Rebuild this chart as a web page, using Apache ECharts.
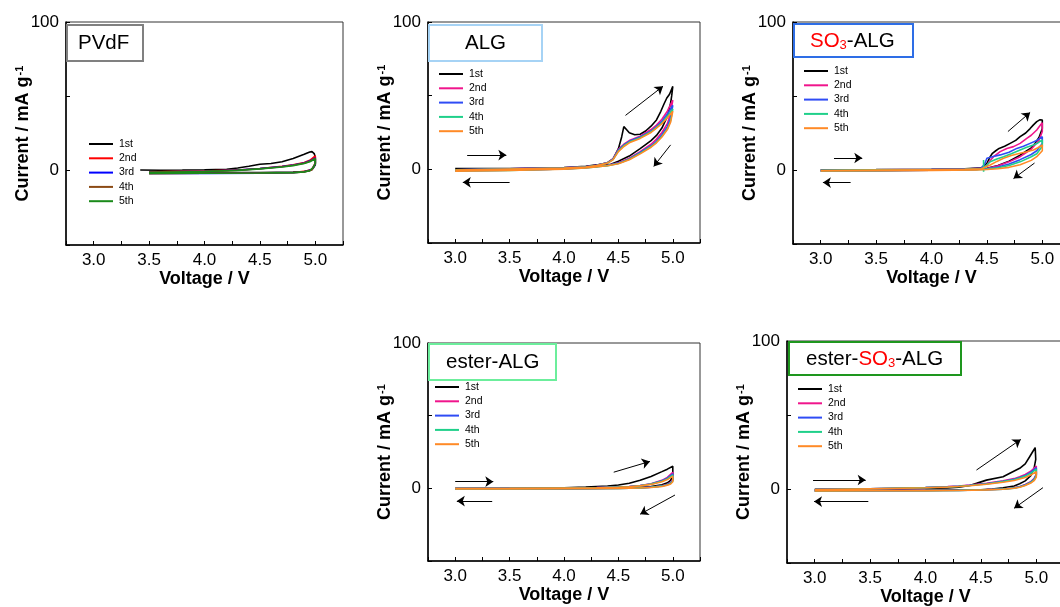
<!DOCTYPE html>
<html><head><meta charset="utf-8">
<script src="https://cdn.jsdelivr.net/npm/echarts@6/dist/echarts.min.js"></script>
<style>html,body{margin:0;padding:0;background:#fff}#c{width:1060px;height:607px}</style>
</head><body><div id="c"></div>
<script>
// ---------- DATA (Voltage / V, Current / mA g-1) ----------
const cycleLabels = ['1st', '2nd', '3rd', '4th', '5th'];
const xTickLabels = ['3.0', '3.5', '4.0', '4.5', '5.0'];
const yTickLabels = ['0', '100'];

// PVdF
const pvdf1 = [[3.42,0.4],[3.6,0.3],[3.8,0.4],[4.0,0.6],[4.2,1.0],[4.3,1.8],[4.4,3.0],[4.5,4.3],[4.6,4.8],[4.7,6.0],[4.8,8.2],[4.9,11],[4.95,12.6],[4.97,12.8],[4.99,11.5],[5.0,9],[5.0,4],[4.98,1.5],[4.95,0],[4.9,-0.6],[4.8,-1.0],[4.5,-1.2],[4.0,-1.3],[3.5,-1.4]];
const pvdf2 = [[3.5,-0.8],[4.0,-0.3],[4.3,0.5],[4.5,1.5],[4.7,3.0],[4.8,4.0],[4.9,5.5],[4.95,7.0],[5.0,10],[5.0,5],[4.97,1],[4.9,-0.5],[4.8,-1.2],[4.5,-1.6],[4.0,-1.7],[3.5,-1.8]];
const pvdf3 = [[3.5,-0.9],[4.0,-0.4],[4.3,0.4],[4.5,1.4],[4.7,2.8],[4.8,3.8],[4.9,5.2],[4.95,6.6],[5.0,8.5],[5.0,4.5],[4.97,0.8],[4.9,-0.7],[4.8,-1.3],[4.5,-1.7],[4.0,-1.8],[3.5,-1.9]];
const pvdf4 = [[3.5,-1.0],[4.0,-0.5],[4.3,0.3],[4.5,1.3],[4.7,2.6],[4.8,3.6],[4.9,5.0],[4.95,6.3],[5.0,8.2],[5.0,4.8],[4.97,0.5],[4.9,-0.8],[4.8,-1.3],[4.5,-1.6],[4.0,-1.7],[3.5,-1.8]];
const pvdf5 = [[3.5,-1.2],[4.0,-0.6],[4.3,0.2],[4.5,1.2],[4.7,2.5],[4.8,3.4],[4.9,4.8],[4.95,6.0],[5.0,8.0],[5.0,5.0],[4.98,2.0],[4.95,0],[4.9,-0.8],[4.8,-1.3],[4.5,-1.6],[4.0,-1.7],[3.5,-1.8]];

// ALG
const alg1 = [[3.0,0.5],[3.5,0.6],[4.0,1.2],[4.2,2.0],[4.3,3.0],[4.4,4.5],[4.45,7],[4.5,14],[4.53,22],[4.55,29],[4.58,26.5],[4.6,24.8],[4.65,23.5],[4.7,23.8],[4.75,26],[4.8,29.3],[4.85,33.5],[4.89,39.4],[4.92,44.5],[4.945,48.4],[4.97,51],[5.0,56.3],[4.99,50],[4.98,45],[4.95,36],[4.9,28],[4.85,23],[4.8,19.5],[4.7,14],[4.6,9],[4.5,5.5],[4.43,3.5],[4.3,2],[4.0,0.5],[3.5,-0.3],[3.0,-0.6]];
const alg2 = [[3.0,-0.3],[3.5,0.3],[4.0,1.0],[4.2,1.8],[4.3,2.8],[4.4,4.5],[4.45,7],[4.5,13.5],[4.55,17],[4.6,19.5],[4.7,22.5],[4.8,27],[4.85,30],[4.9,34],[4.95,39.5],[5.0,47],[4.98,38],[4.95,31],[4.9,25],[4.85,20.5],[4.8,17],[4.7,12],[4.6,7.5],[4.5,4.5],[4.4,2.8],[4.2,1.2],[4.0,0.3],[3.5,-0.6],[3.0,-1.0]];
const alg3 = [[3.0,-0.3],[3.5,0.3],[4.0,1.0],[4.2,1.7],[4.3,2.7],[4.4,4.4],[4.45,6.8],[4.5,13],[4.55,16.5],[4.6,19],[4.7,22],[4.8,26],[4.85,29],[4.9,32.5],[4.95,37.5],[5.0,43.5],[4.98,35],[4.95,29],[4.9,23.5],[4.85,19],[4.8,16],[4.7,11.5],[4.6,7],[4.5,4.2],[4.4,2.6],[4.2,1.1],[4.0,0.2],[3.5,-0.6],[3.0,-1.0]];
const alg4 = [[3.0,-0.4],[3.5,0.2],[4.0,0.9],[4.2,1.6],[4.3,2.6],[4.4,4.3],[4.45,6.6],[4.5,12.5],[4.55,16],[4.6,18.5],[4.7,21.5],[4.8,25.5],[4.85,28.5],[4.9,31.5],[4.95,36],[5.0,41],[4.98,33],[4.95,27.5],[4.9,22.5],[4.85,18.5],[4.8,15.5],[4.7,11],[4.6,6.8],[4.5,4],[4.4,2.5],[4.2,1.0],[4.0,0.2],[3.5,-0.7],[3.0,-1.1]];
const alg5 = [[3.0,-0.5],[3.5,0.2],[4.0,0.9],[4.2,1.6],[4.3,2.5],[4.4,4.2],[4.45,6.4],[4.5,12],[4.55,15.5],[4.6,18],[4.7,21],[4.8,25],[4.85,28],[4.9,31],[4.95,35],[5.0,39.5],[4.98,32],[4.95,27],[4.9,22],[4.85,18],[4.8,15],[4.7,10.5],[4.6,6.5],[4.5,3.8],[4.4,2.4],[4.2,1.0],[4.0,0.1],[3.5,-0.7],[3.0,-1.2]];

// SO3-ALG
const so3alg1 = [[3.0,0.2],[3.5,0.3],[4.0,0.5],[4.3,0.8],[4.45,1.5],[4.5,4.5],[4.53,9],[4.55,11.3],[4.58,13],[4.61,14.6],[4.66,16],[4.71,18],[4.76,20],[4.8,22.5],[4.85,25],[4.89,28],[4.92,30.5],[4.95,32.7],[4.98,34],[5.0,33.8],[5.0,28],[4.97,22],[4.93,17.5],[4.9,15],[4.85,12.5],[4.8,10],[4.7,6],[4.6,3],[4.5,1.2],[4.4,0.5],[4.0,0],[3.5,-0.3],[3.0,-0.5]];
const so3alg2 = [[3.0,-0.2],[3.5,0.1],[4.0,0.4],[4.3,0.7],[4.45,1.2],[4.5,3],[4.52,5.6],[4.56,9],[4.62,12.4],[4.68,14.5],[4.74,15.8],[4.8,18],[4.86,21.4],[4.9,23.5],[4.95,27],[4.98,30],[5.0,32],[5.0,26],[4.97,20],[4.9,14],[4.8,9],[4.7,5.5],[4.6,2.8],[4.5,1],[4.4,0.4],[4.0,-0.1],[3.5,-0.4],[3.0,-0.6]];
const so3alg3 = [[3.0,-0.2],[3.5,0.1],[4.0,0.3],[4.3,0.6],[4.45,1.2],[4.48,4],[4.5,7.9],[4.55,9],[4.62,10.2],[4.7,12],[4.77,14.6],[4.83,16],[4.89,18],[4.95,20],[5.0,22.5],[5.0,18],[4.95,13],[4.9,10.5],[4.8,7],[4.7,4],[4.6,2],[4.5,0.8],[4.4,0.3],[4.0,-0.2],[3.5,-0.4],[3.0,-0.6]];
const so3alg4 = [[3.0,-0.2],[3.5,0.1],[4.0,0.3],[4.3,0.5],[4.44,0.8],[4.47,1.2],[4.47,6.8],[4.47,-1.1],[4.475,1.5],[4.53,5.6],[4.59,7.5],[4.65,9],[4.72,11],[4.8,13.5],[4.86,15.3],[4.92,16.9],[4.96,18.3],[5.0,20.3],[5.0,16],[4.95,11],[4.9,9],[4.8,5.5],[4.7,3],[4.6,1.5],[4.5,0.6],[4.4,0.2],[4.0,-0.2],[3.5,-0.4],[3.0,-0.6]];
const so3alg5 = [[3.0,-0.3],[3.5,0],[4.0,0.2],[4.3,0.4],[4.45,0.8],[4.53,3.4],[4.59,5.8],[4.65,7.9],[4.72,9.8],[4.8,11.3],[4.86,12.3],[4.92,13.5],[4.96,15],[5.0,16.9],[5.0,13],[4.95,9],[4.9,6.5],[4.8,3.5],[4.7,1.8],[4.6,0.8],[4.5,0.3],[4.4,0],[4.0,-0.3],[3.5,-0.5],[3.0,-0.7]];

// ester-ALG
const esterAlg1 = [[3.0,0],[3.5,0.1],[4.0,0.4],[4.2,0.8],[4.3,1.2],[4.4,1.6],[4.5,2.3],[4.6,3.5],[4.7,5.5],[4.8,8.2],[4.9,11.5],[4.95,13.2],[5.0,15.2],[5.0,9],[4.98,5.5],[4.95,3.8],[4.9,2.5],[4.8,1.2],[4.7,0.7],[4.6,0.4],[4.4,0.1],[4.0,-0.2],[3.5,-0.3],[3.0,-0.3]];
const esterAlg2 = [[3.0,-0.1],[3.5,0],[4.0,0.2],[4.3,0.5],[4.5,0.9],[4.6,1.3],[4.7,2.0],[4.8,3.2],[4.9,5.5],[4.95,7.5],[5.0,11],[5.0,6],[4.98,4],[4.95,2.8],[4.9,1.7],[4.8,0.8],[4.7,0.4],[4.5,0.1],[4.0,-0.3],[3.5,-0.4],[3.0,-0.4]];
const esterAlg3 = [[3.0,-0.1],[3.5,0],[4.0,0.2],[4.3,0.5],[4.5,0.8],[4.6,1.2],[4.7,1.9],[4.8,3.0],[4.9,5.2],[4.95,7.0],[5.0,10],[5.0,5.5],[4.98,3.7],[4.95,2.6],[4.9,1.6],[4.8,0.7],[4.7,0.3],[4.5,0],[4.0,-0.3],[3.5,-0.4],[3.0,-0.4]];
const esterAlg4 = [[3.0,-0.1],[3.5,0],[4.0,0.2],[4.3,0.4],[4.5,0.8],[4.6,1.1],[4.7,1.8],[4.8,2.9],[4.9,4.9],[4.95,6.5],[5.0,9.2],[5.0,5],[4.98,3.4],[4.95,2.4],[4.9,1.5],[4.8,0.7],[4.7,0.3],[4.5,0],[4.0,-0.3],[3.5,-0.4],[3.0,-0.4]];
const esterAlg5 = [[3.0,-0.1],[3.5,0],[4.0,0.2],[4.3,0.4],[4.5,0.7],[4.6,1.0],[4.7,1.7],[4.8,2.7],[4.9,4.5],[4.95,6.0],[5.0,8.3],[5.0,4.5],[4.98,3],[4.95,2.2],[4.9,1.3],[4.8,0.6],[4.7,0.2],[4.5,0],[4.0,-0.3],[3.5,-0.4],[3.0,-0.4]];

// ester-SO3-ALG
const esterSo3Alg1 = [[3.0,-0.2],[3.5,0],[4.0,0.3],[4.2,0.7],[4.3,1.2],[4.4,2.4],[4.46,3.8],[4.55,6],[4.7,8.3],[4.77,11],[4.85,14],[4.9,17],[4.94,21.8],[4.97,25.5],[4.99,28],[5.0,27],[4.995,20],[4.98,14],[4.95,9],[4.9,5.5],[4.85,3.5],[4.8,2],[4.7,0.8],[4.6,0],[4.5,-0.5],[4.0,-0.9],[3.5,-1.0],[3.0,-1.1]];
const esterSo3Alg2 = [[3.0,-0.5],[3.5,0.2],[4.0,1.0],[4.2,1.6],[4.3,2.0],[4.4,2.6],[4.55,3.8],[4.7,5.5],[4.8,7],[4.85,8.3],[4.9,9.8],[4.95,12],[5.0,15.5],[5.0,10],[4.98,7],[4.95,5],[4.9,3],[4.85,1.6],[4.8,0.8],[4.7,0],[4.55,-0.4],[4.3,-0.8],[4.0,-1.0],[3.5,-1.1],[3.0,-1.2]];
const esterSo3Alg3 = [[3.0,-0.5],[3.5,0.2],[4.0,0.9],[4.2,1.5],[4.3,1.9],[4.4,2.5],[4.55,3.6],[4.7,5.2],[4.8,6.6],[4.85,7.8],[4.9,9.2],[4.95,11.3],[5.0,14.4],[5.0,9.5],[4.98,6.6],[4.95,4.7],[4.9,2.8],[4.85,1.5],[4.8,0.7],[4.7,-0.1],[4.55,-0.5],[4.3,-0.9],[4.0,-1.0],[3.5,-1.1],[3.0,-1.2]];
const esterSo3Alg4 = [[3.0,-0.5],[3.5,0.2],[4.0,0.9],[4.2,1.4],[4.3,1.8],[4.4,2.4],[4.55,3.4],[4.7,5.0],[4.8,6.3],[4.85,7.4],[4.9,8.7],[4.95,10.6],[5.0,13.5],[5.0,9],[4.98,6.2],[4.95,4.4],[4.9,2.6],[4.85,1.4],[4.8,0.6],[4.7,-0.1],[4.55,-0.5],[4.3,-0.9],[4.0,-1.1],[3.5,-1.2],[3.0,-1.3]];
const esterSo3Alg5 = [[3.0,-0.6],[3.5,0.1],[4.0,0.8],[4.2,1.3],[4.3,1.7],[4.4,2.2],[4.55,3.2],[4.7,4.6],[4.8,5.8],[4.85,6.7],[4.9,7.8],[4.95,9.4],[5.0,11.7],[5.0,8],[4.98,5.6],[4.95,4.0],[4.9,2.3],[4.85,1.2],[4.8,0.5],[4.7,-0.2],[4.55,-0.6],[4.3,-1.0],[4.0,-1.1],[3.5,-1.2],[3.0,-1.3]];

// Arrow annotations (start/end in data units)
const algArrows = [[[3.11,9.7],[3.47,9.7]],[[3.5,-8.8],[3.07,-8.8]],[[4.565,36.6],[4.91,56.4]],[[4.98,16.6],[4.825,2]]];
const so3algArrows = [[[3.12,8.1],[3.375,8.1]],[[3.27,-8.5],[3.02,-8.5]],[[4.69,26],[4.89,38.9]],[[4.93,4.7],[4.74,-5.8]]];
const esterAlgArrows = [[[3.0,4.6],[3.35,4.6]],[[3.34,-8.8],[3.015,-8.8]],[[4.457,11.1],[4.79,18.5]],[[5.02,-4.6],[4.70,-17.8]]];
const esterSo3AlgArrows = [[[2.985,6.1],[3.46,6.1]],[[3.484,-8.5],[2.994,-8.5]],[[4.46,12.8],[4.86,33.5]],[[5.06,0.9],[4.8,-13]]];

// ---------- LAYOUT / STYLE ----------
const pvdfColors = ['#000000', '#ff0000', '#0000ff', '#8b4a14', '#1a8a1a'];
const algColors = ['#000000', '#f0158c', '#2f4cf5', '#1fd08a', '#ff8a26'];

const panels = [
  {key: 'PVdF', data: [pvdf1, pvdf2, pvdf3, pvdf4, pvdf5], colors: pvdfColors, arrows: [],
   grid: {left: 66, top: 22, width: 277, height: 223}, legend: {left: 89, top: 138},
   title: {text: 'PVdF', left: 67, top: 25, border: '#808080', padding: [7, 14, 7, 11]}},
  {key: 'ALG', data: [alg1, alg2, alg3, alg4, alg5], colors: algColors, arrows: algArrows,
   grid: {left: 428, top: 22, width: 272, height: 221}, legend: {left: 439, top: 68},
   title: {text: 'ALG', left: 429, top: 25, border: '#a6d3f5', padding: [7, 36, 7, 36]}},
  {key: 'SO3-ALG', data: [so3alg1, so3alg2, so3alg3, so3alg4, so3alg5], colors: algColors, arrows: so3algArrows,
   grid: {left: 793, top: 22, width: 277, height: 222}, legend: {left: 804, top: 65},
   title: {text: '{r|SO}{rs|3}{k|-ALG}', left: 794, top: 26, border: '#2e6ee6', padding: [4, 19, 5, 16]}},
  {key: 'ester-ALG', data: [esterAlg1, esterAlg2, esterAlg3, esterAlg4, esterAlg5], colors: algColors, arrows: esterAlgArrows,
   grid: {left: 428, top: 343, width: 272, height: 218}, legend: {left: 435, top: 381},
   title: {text: 'ester-ALG', left: 429, top: 344, border: '#6cee9c', padding: [7, 17, 7, 17]}},
  {key: 'ester-SO3-ALG', data: [esterSo3Alg1, esterSo3Alg2, esterSo3Alg3, esterSo3Alg4, esterSo3Alg5], colors: algColors, arrows: esterSo3AlgArrows,
   grid: {left: 787, top: 341, width: 277, height: 222}, legend: {left: 798, top: 383},
   title: {text: '{k|ester-}{r|SO}{rs|3}{k|-ALG}', left: 789, top: 344, border: '#1e961e', padding: [4, 18, 5, 17]}}
];

const FONT = 'Liberation Sans, Arial, Helvetica, sans-serif';
const TFS = 20.5;
const option = {
  animation: false,
  backgroundColor: '#ffffff',
  textStyle: {fontFamily: FONT},
  grid: [], xAxis: [], yAxis: [], series: [], legend: [], title: []
};

panels.forEach((p, i) => {
  option.grid.push(Object.assign({show: true, borderColor: '#333333', borderWidth: 1, containLabel: false, outerBoundsMode: 'none'}, p.grid));
  option.xAxis.push({
    type: 'value', gridIndex: i, min: 2.75, max: 5.25, interval: 0.25,
    name: 'Voltage / V', nameLocation: 'middle', nameGap: 25,
    nameTextStyle: {fontSize: 18, fontWeight: 'bold', color: '#000', fontFamily: FONT},
    axisLine: {show: true, onZero: false, lineStyle: {color: '#000', width: 1.5}},
    axisTick: {show: true, inside: true, length: 4, interval: 0, lineStyle: {color: '#000', width: 1}},
    axisLabel: {
      interval: 0, margin: 7, fontSize: 17, color: '#000', fontFamily: FONT, showMinLabel: true, showMaxLabel: true,
      formatter: v => { const s = Number(v).toFixed(1); return (xTickLabels.includes(s) && Math.abs(v * 2 - Math.round(v * 2)) < 1e-6) ? s : ''; }
    },
    splitLine: {show: false}
  });
  option.yAxis.push({
    type: 'value', gridIndex: i, min: -50, max: 100, interval: 50,
    name: 'Current / mA g{sup|-1}', nameLocation: 'middle', nameGap: 33, nameRotate: 90, nameMoveOverlap: false,
    nameTextStyle: {fontSize: 18, fontWeight: 'bold', color: '#000', fontFamily: FONT,
      rich: {sup: {fontSize: 11, fontWeight: 'bold', color: '#000', verticalAlign: 'top', padding: [0, 0, 8, 1], fontFamily: FONT}}},
    axisLine: {show: true, onZero: false, lineStyle: {color: '#000', width: 1.5}},
    axisTick: {show: true, inside: true, length: 4, lineStyle: {color: '#000', width: 1}},
    axisLabel: {margin: 7, fontSize: 17, color: '#000', fontFamily: FONT,
      formatter: v => yTickLabels.includes(String(v)) ? String(v) : ''},
    splitLine: {show: false}
  });
  const names = [];
  p.data.forEach((d, j) => {
    const name = p.key + '|' + cycleLabels[j];
    names.push(name);
    const s = {
      type: 'line', name: name, xAxisIndex: i, yAxisIndex: i, data: d,
      showSymbol: false, symbol: 'none', smooth: false, silent: true,
      lineStyle: {color: p.colors[j], width: 1.6}, itemStyle: {color: p.colors[j]},
      z: 2 + j
    };
    if (j === 0 && p.arrows.length) {
      s.markLine = {
        silent: true, symbol: ['none', 'arrow'], symbolSize: 8, animation: false,
        label: {show: false}, lineStyle: {color: '#000', width: 1, type: 'solid'},
        itemStyle: {color: '#000'},
        data: p.arrows.map(a => [{coord: a[0]}, {coord: a[1]}])
      };
    }
    option.series.push(s);
  });
  option.legend.push({
    data: names, orient: 'vertical', left: p.legend.left, top: p.legend.top, padding: 0,
    icon: 'rect', itemWidth: 24, itemHeight: 2, itemGap: 2.3, selectedMode: false,
    formatter: n => n.split('|')[1],
    textStyle: {fontSize: 10.5, color: '#000', lineHeight: 12, fontFamily: FONT, padding: [0, 0, 0, 1]}
  });
  option.title.push({
    text: p.title.text, left: p.title.left, top: p.title.top,
    borderColor: p.title.border, borderWidth: 2, padding: p.title.padding, backgroundColor: '#fff',
    textStyle: {fontSize: TFS, fontWeight: 'normal', color: '#000', fontFamily: FONT, lineHeight: 22,
      rich: {
        k: {fontSize: TFS, color: '#000', fontFamily: FONT, lineHeight: 22},
        r: {fontSize: TFS, color: '#ff0000', fontFamily: FONT, lineHeight: 22},
        rs: {fontSize: 13, color: '#ff0000', fontFamily: FONT, verticalAlign: 'bottom', lineHeight: 22, padding: [11, 0, 0, 0]}
      }}
  });
});

const chart = echarts.init(document.getElementById('c'), null, {renderer: 'canvas'});
chart.setOption(option);
</script>
</body></html>
